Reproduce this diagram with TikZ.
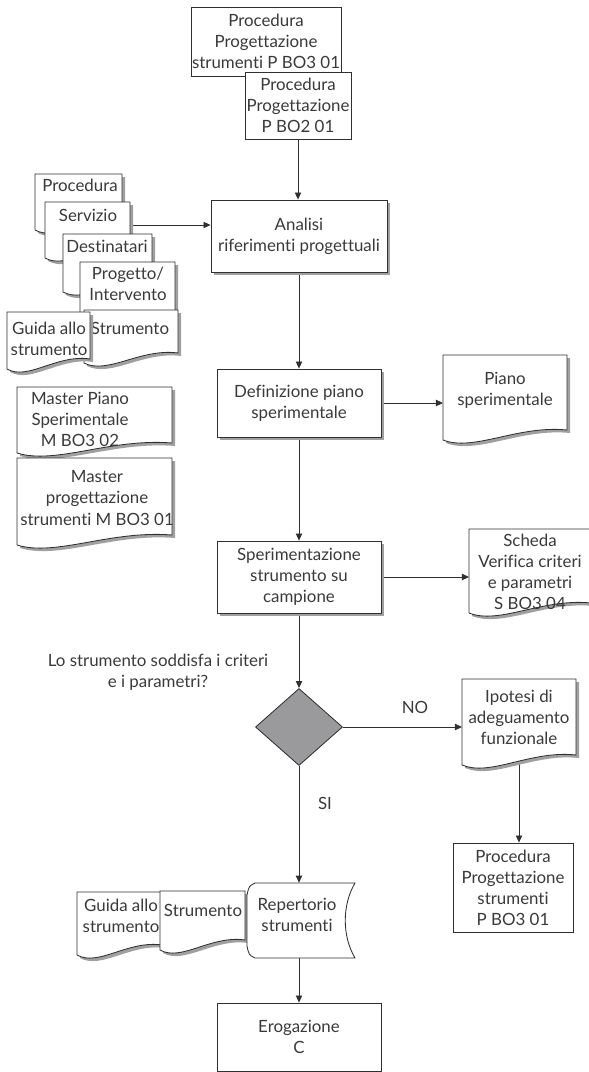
\documentclass[tikz,border=0pt]{standalone}
\usepackage{fontspec}
\setmainfont{Lato}[Ligatures={NoCommon,NoDiscretionary}]
\usetikzlibrary{shapes.geometric,arrows.meta,shadows,backgrounds}
\definecolor{txtgray}{HTML}{3A3A3A}
\definecolor{linegray}{HTML}{303030}
\definecolor{shadowgray}{HTML}{A0A0A0}
\definecolor{diagray}{HTML}{9A9A9C}

% document shape: name, x1, y1, x2, bottom (right end), text position, text
\newcommand{\docu}[7]{%
  \pgfmathsetmacro{\wa}{#2+0.25*(#4-#2)}%
  \pgfmathsetmacro{\wb}{#2+0.6*(#4-#2)}%
  \fill[shadowgray] (#2+3,#3+3) -- (#4+3,#3+3) -- (#4+3,#5+3) .. controls (\wb+3,#5-2) and (\wa+3,#5+25) .. (#2+3,#5+13) -- cycle;
  \filldraw[docline] (#2,#3) -- (#4,#3) -- (#4,#5) .. controls (\wb,#5-5) and (\wa,#5+22) .. (#2,#5+10) -- cycle;
  \node[inner sep=0pt,outer sep=0pt,minimum width={(#4-#2)*0.025cm},minimum height={(#5-#3)*0.025cm}] (#1) at ({(#2+#4)/2},{(#3+#5)/2}) {};
  \node[txt] (#1-t) at #6 {#7};
}

\begin{document}
\begin{tikzpicture}[x=0.025cm,y=-0.025cm,
    txt/.style={inner sep=0pt,align=center,text=txtgray,font=\fontsize{12}{15}\selectfont},
    docline/.style={draw=linegray,fill=white,line width=0.6pt},
    proc/.style={txt,draw=linegray,fill=white,line width=0.6pt},
    procs/.style={proc,drop shadow={shadow xshift=2pt,shadow yshift=-2pt,fill=shadowgray,opacity=1}},
    arr/.style={draw=linegray,line width=0.6pt,-{Triangle[length=5pt,width=4.5pt]}},
    dia/.style={diamond,draw=linegray,fill=diagray,line width=0.6pt,inner sep=0pt,minimum width=2.175cm,minimum height=1.925cm}]
\useasboundingbox (0,0) rectangle (589,1072);

% top procedures
\node[proc,minimum width=3.75cm,minimum height=1.725cm] (pbo3) at (266,41.5) {Procedura\\Progettazione\\strumenti P BO3 01};
\node[proc,minimum width=2.65cm,minimum height=1.675cm] (pbo2) at (298,105.5) {Procedura\\Progettazione\\P BO2 01};

% main column
\node[procs,minimum width=4.4cm,minimum height=1.8cm] (anal) at (299,236) {Analisi\\riferimenti progettuali};
\node[procs,minimum width=4.1cm,minimum height=1.7cm] (defi) at (299,403) {Definizione piano\\sperimentale};
\node[procs,minimum width=4.1cm,minimum height=1.8cm] (speri) at (299,577) {Sperimentazione\\strumento su\\campione};
\node[dia] (dec) at (299,727) {};
\node[proc,minimum width=4.1cm,minimum height=1.7cm] (erog) at (299,1037) {Erogazione\\C};

\node[txt] (quest) at (158,672) {Lo strumento soddisfa i criteri\\e i parametri?};
\node[txt] (no) at (415,707) {NO};
\node[txt] (si) at (325,803) {SI};

% input documents (left stack)
\docu{dproc}{35}{174}{122}{220}{(80,185)}{Procedura}
\docu{serv}{45}{202}{130}{248}{(88,215)}{Servizio}
\docu{dest}{63}{234}{152}{282}{(107,246)}{Destinatari}
\docu{prog}{80}{262}{175}{330}{(128,284)}{Progetto/\\Intervento}
\docu{strl}{84}{310}{178}{353}{(130,328)}{Strumento}
\docu{guil}{7}{312}{90}{359}{(49,339)}{Guida allo\\strumento}
\docu{mpiano}{17}{387}{172}{443}{(80,419)}{Master Piano\\Sperimentale\\M BO3 02}
\docu{mprog}{17}{458}{172}{535}{(97,498)}{Master\\progettazione\\strumenti M BO3 01}

% output documents
\docu{piano}{443}{355}{567}{430}{(505,390)}{Piano\\sperimentale}
\docu{scheda}{469}{529}{591}{603}{(530,572)}{Scheda\\Verifica criteri\\e parametri\\S BO3 04}
\docu{ipo}{462}{679}{576}{755}{(519,717)}{Ipotesi di\\adeguamento\\funzionale}
\node[proc,minimum width=3cm,minimum height=2.225cm] (pbo3b) at (513,887.5) {Procedura\\Progettazione\\strumenti\\P BO3 01};

\docu{guib}{77}{892}{162}{945}{(121,916)}{Guida allo\\strumento}
\docu{strb}{160}{891}{245}{940}{(203,910)}{Strumento}

% repertorio (stored data)
\filldraw[docline] (255,883) -- (355,883) .. controls (342,905) and (342,936) .. (355,958) -- (255,958)
  .. controls (249,955) .. (247,946) -- (247,895) .. controls (249,886) .. (255,883) -- cycle;
\node[inner sep=0pt,minimum width=2.75cm,minimum height=1.875cm] (rep) at (301,920.5) {};
\node[txt] (rep-t) at (297,915) {Repertorio\\strumenti};

\begin{pgfonlayer}{background}
\draw[arr] (pbo2.south) -- (pbo2.south |- anal.north);
\draw[arr] (serv.east) -- (serv.east -| anal.west);
\draw[arr] (anal.south) -- (anal.south |- defi.north);
\draw[arr] (defi.east) -- (defi.east -| piano.west);
\draw[arr] (defi.south) -- (speri.north);
\draw[arr] (speri.east) -- (speri.east -| scheda.west);
\draw[arr] (speri.south) -- (dec.north);
\draw[arr] (dec.east) -- (dec.east -| ipo.west);
\draw[arr] (dec.south) -- (dec.south |- rep.north);
\draw[arr] (ipo.south) -- (ipo.south |- pbo3b.north);
\draw[arr] (rep.south -| erog.north) -- (erog.north);
\end{pgfonlayer}
\end{tikzpicture}
\end{document}
